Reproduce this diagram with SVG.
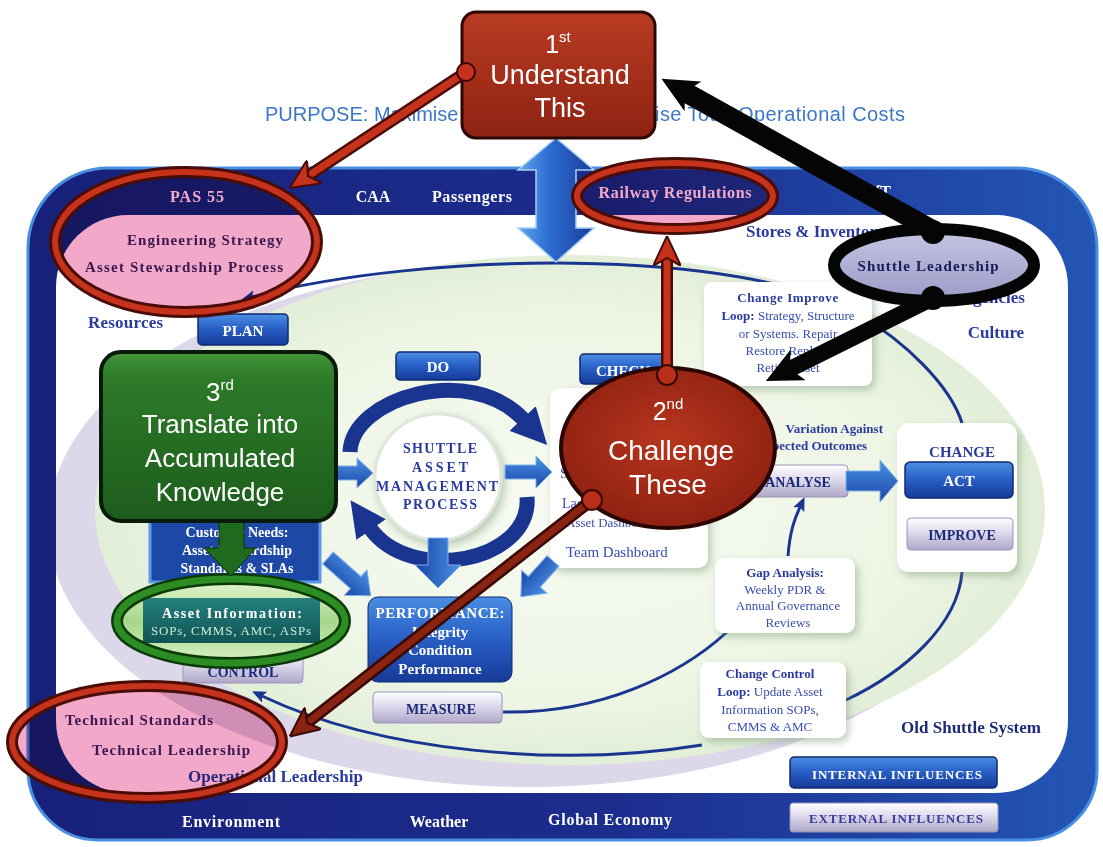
<svg xmlns="http://www.w3.org/2000/svg" width="1103" height="847" viewBox="0 0 1103 847">
<defs>
  <style>
    .sb { font-family: "Liberation Serif", serif; font-weight: bold; }
    .sr { font-family: "Liberation Serif", serif; }
    .ss { font-family: "Liberation Sans", Arial, sans-serif; }
    .w { fill: #ffffff; }
    .bl { fill: #2a3a9e; }
    .nv { fill: #1c2a7a; }
    .pu { fill: #3a1650; }
    .lb { fill: #3a4cb0; }
    .mid { text-anchor: middle; }
    .thin { fill: none; stroke: #1a3590; stroke-width: 3; }
    .panel { fill: #ffffff; filter: url(#sh); }
    .btnB { fill: url(#gBlueBtn); stroke: #0f2a70; stroke-width: 1.5; }
    .btnL { fill: url(#gLavBtn); stroke: #9a94b8; stroke-width: 1; }
    .blk { fill: url(#gArrow); stroke: #7fb0ea; stroke-width: 1; }
    .pink { fill: #f2a8c8; mix-blend-mode: multiply; }
    .rimO { fill: none; stroke: #4a0c06; stroke-width: 12; }
    .rimI { fill: none; stroke: #c5331c; stroke-width: 6; }
  </style>
  <clipPath id="inner">
    <rect x="56" y="215" width="1012" height="578" rx="72"/>
  </clipPath>
  <linearGradient id="gFrame" x1="0" y1="0" x2="1" y2="0">
    <stop offset="0" stop-color="#17217a"/>
    <stop offset="0.55" stop-color="#1c2d8e"/>
    <stop offset="1" stop-color="#2356b6"/>
  </linearGradient>
  <linearGradient id="gBlueBtn" x1="0" y1="0" x2="0" y2="1">
    <stop offset="0" stop-color="#4b8ee2"/>
    <stop offset="0.45" stop-color="#2a62c8"/>
    <stop offset="1" stop-color="#163a98"/>
  </linearGradient>
  <linearGradient id="gLavBtn" x1="0" y1="0" x2="0" y2="1">
    <stop offset="0" stop-color="#ffffff"/>
    <stop offset="0.4" stop-color="#e2deef"/>
    <stop offset="1" stop-color="#aea6c8"/>
  </linearGradient>
  <linearGradient id="gGreen" x1="0" y1="0" x2="0" y2="1">
    <stop offset="0" stop-color="#44963a"/>
    <stop offset="0.15" stop-color="#2d7b29"/>
    <stop offset="1" stop-color="#1d5c1c"/>
  </linearGradient>
  <radialGradient id="gRed" cx="0.5" cy="0.45" r="0.6">
    <stop offset="0" stop-color="#b8361e"/>
    <stop offset="1" stop-color="#8c1f10"/>
  </radialGradient>
  <linearGradient id="gRedBox" x1="0" y1="0" x2="0" y2="1">
    <stop offset="0" stop-color="#b93b22"/>
    <stop offset="1" stop-color="#8e2212"/>
  </linearGradient>
  <radialGradient id="gMint" cx="0.5" cy="0.5" r="0.5">
    <stop offset="0" stop-color="#f8fbf4"/>
    <stop offset="0.75" stop-color="#edf5e4"/>
    <stop offset="1" stop-color="#e2eed8"/>
  </radialGradient>
  <linearGradient id="gArrow" x1="0" y1="0" x2="0" y2="1">
    <stop offset="0" stop-color="#4a92e4"/>
    <stop offset="1" stop-color="#1b46a8"/>
  </linearGradient>
  <linearGradient id="gBig" x1="0" y1="0" x2="1" y2="0">
    <stop offset="0" stop-color="#62a6ec"/>
    <stop offset="0.4" stop-color="#2d6ed2"/>
    <stop offset="1" stop-color="#1a3c9c"/>
  </linearGradient>
  <linearGradient id="gTeal" x1="0" y1="0" x2="0" y2="1">
    <stop offset="0" stop-color="#25807e"/>
    <stop offset="1" stop-color="#105454"/>
  </linearGradient>
  <linearGradient id="gShut" x1="0" y1="0" x2="0" y2="1">
    <stop offset="0" stop-color="#c6c6e6"/>
    <stop offset="1" stop-color="#9a9ac6"/>
  </linearGradient>
  <linearGradient id="gLeaf" x1="0" y1="0" x2="0" y2="1">
    <stop offset="0" stop-color="#e4f6d2"/>
    <stop offset="0.5" stop-color="#a6d68a"/>
    <stop offset="1" stop-color="#d8f0c4"/>
  </linearGradient>
  <filter id="sh" x="-15%" y="-15%" width="135%" height="145%">
    <feDropShadow dx="3" dy="4" stdDeviation="4" flood-color="#6f8f6a" flood-opacity="0.45"/>
  </filter>
  <marker id="mRed" viewBox="0 0 30 28" refX="8" refY="14" markerWidth="30" markerHeight="28" markerUnits="userSpaceOnUse" orient="auto">
    <path d="M0,0 L30,14 L0,28 L8,14 z" fill="#c5331c" stroke="#4a0c06" stroke-width="2"/>
  </marker>
  <marker id="mBrown" viewBox="0 0 30 28" refX="8" refY="14" markerWidth="30" markerHeight="28" markerUnits="userSpaceOnUse" orient="auto">
    <path d="M0,0 L30,14 L0,28 L8,14 z" fill="#8a2412" stroke="#3a0804" stroke-width="2"/>
  </marker>
  <marker id="mBlack" viewBox="0 0 36 34" refX="9" refY="17" markerWidth="36" markerHeight="34" markerUnits="userSpaceOnUse" orient="auto">
    <path d="M0,0 L36,17 L0,34 L9,17 z" fill="#050505"/>
  </marker>
  <marker id="mArc" viewBox="0 0 36 36" refX="2" refY="18" markerWidth="36" markerHeight="36" markerUnits="userSpaceOnUse" orient="auto">
    <path d="M0,0 L36,18 L0,36 z" fill="#1a3590"/>
  </marker>
  <marker id="mThin" viewBox="0 0 14 12" refX="3" refY="6" markerWidth="14" markerHeight="12" markerUnits="userSpaceOnUse" orient="auto-start-reverse">
    <path d="M0,0 L14,6 L0,12 L3,6 z" fill="#1a3590"/>
  </marker>
</defs>

<rect width="1103" height="847" fill="#ffffff"/>

<!-- outer influences frame with the internal field -->
<g id="frame">
  <path d="M108,168 H1017 A80,80 0 0 1 1097,248 V770 A70,70 0 0 1 1027,840 H98 A70,70 0 0 1 28,770 V248 A80,80 0 0 1 108,168 Z" fill="url(#gFrame)" stroke="#4a90e0" stroke-width="3"/>
  <rect x="56" y="215" width="1012" height="578" rx="72" fill="#ffffff"/>
  <g clip-path="url(#inner)">
    <ellipse cx="528" cy="525" rx="480" ry="262" fill="#dcd8ea"/>
    <ellipse cx="570" cy="510" rx="475" ry="255" fill="url(#gMint)"/>
  </g>
</g>

<!-- frame labels -->
<g id="frame-labels" font-size="16">
  <text x="197" y="202" class="sb w mid" textLength="54">PAS 55</text>
  <text x="373" y="202" class="sb w mid">CAA</text>
  <text x="472" y="202" class="sb w mid" textLength="80">Passengers</text>
  <text x="675" y="198" class="sb w mid" textLength="153">Railway Regulations</text>
  <text x="891" y="197" class="sb w" text-anchor="end">DfT</text>
  <text x="231" y="827" class="sb w mid" textLength="98">Environment</text>
  <text x="439" y="827" class="sb w mid">Weather</text>
  <text x="610" y="825" class="sb w mid" textLength="124">Global Economy</text>
</g>

<text id="purpose" x="265" y="121" class="ss" font-size="20" fill="#3b78c8">PURPOSE: Maximise</text>
<text x="655" y="121" class="ss" font-size="20" fill="#3b78c8" textLength="250">ise Total Operational Costs</text>

<!-- loop lines -->
<g id="loops">
  <path class="thin" d="M252,297 C420,252 740,246 860,315 C905,342 950,385 962,423" marker-start="url(#mThin)"/>
  <path class="thin" d="M962,572 C958,625 905,672 846,700"/>
  <path class="thin" d="M702,745 C560,768 380,752 262,696" marker-end="url(#mThin)"/>
  <path class="thin" d="M503,712 C600,714 680,675 727,632"/>
  <path class="thin" d="M788,556 C790,530 795,518 800,507" marker-end="url(#mThin)"/>
</g>

<!-- internal influence labels -->
<g id="influences" font-size="17">
  <text x="746" y="237" class="sb bl">Stores &amp; Inventory</text>
  <text x="1025" y="303" class="sb bl" text-anchor="end">Agencies</text>
  <text x="996" y="338" class="sb bl mid">Culture</text>
  <text x="88" y="328" class="sb bl" textLength="75">Resources</text>
  <text x="188" y="782" class="sb bl" textLength="175">Operational Leadership</text>
  <text x="971" y="733" class="sb nv mid" textLength="140">Old Shuttle System</text>
</g>

<!-- change improve loop panel -->
<g id="change-improve">
  <rect x="704" y="282" width="168" height="104" rx="8" class="panel"/>
  <text x="788" y="302" class="sb bl mid" font-size="13" letter-spacing="0.6">Change Improve</text>
  <text x="788" y="320" class="sr lb mid" font-size="13"><tspan font-weight="bold" fill="#2a3a9e">Loop:</tspan> Strategy, Structure</text>
  <text x="788" y="338" class="sr lb mid" font-size="13">or Systems. Repair</text>
  <text x="788" y="355" class="sr lb mid" font-size="13">Restore Replace</text>
  <text x="788" y="372" class="sr lb mid" font-size="13">Retire Asset</text>
</g>

<!-- check panel -->
<g id="check-panel">
  <rect x="550" y="388" width="158" height="180" rx="10" class="panel"/>
  <text x="560" y="478" class="sr lb" font-size="14">Service KPIs</text>
  <text x="562" y="508" class="sr lb" font-size="14">Lagging KPIs</text>
  <text x="566" y="527" class="sr lb" font-size="13">Asset Dashboard</text>
  <text x="566" y="557" class="sr lb" font-size="15">Team Dashboard</text>
</g>

<!-- change panel -->
<g id="change">
  <rect x="897" y="423" width="120" height="149" rx="12" class="panel"/>
  <text x="962" y="457" class="sb bl mid" font-size="15">CHANGE</text>
  <rect x="905" y="462" width="108" height="36" rx="5" class="btnB"/>
  <text x="959" y="486" class="sb w mid" font-size="15">ACT</text>
  <rect x="907" y="518" width="106" height="32" rx="4" class="btnL"/>
  <text x="962" y="540" class="sb nv mid" font-size="14">IMPROVE</text>
</g>

<!-- gap analysis panel -->
<g id="gap-analysis">
  <rect x="715" y="558" width="140" height="75" rx="9" class="panel"/>
  <text x="785" y="577" class="sb bl mid" font-size="13">Gap Analysis:</text>
  <text x="785" y="594" class="sr lb mid" font-size="13">Weekly PDR &amp;</text>
  <text x="788" y="610" class="sr lb mid" font-size="13">Annual Governance</text>
  <text x="788" y="627" class="sr lb mid" font-size="13">Reviews</text>
</g>

<!-- change control panel -->
<g id="change-control">
  <rect x="700" y="662" width="146" height="76" rx="9" class="panel"/>
  <text x="770" y="678" class="sb bl mid" font-size="13">Change Control</text>
  <text x="770" y="696" class="sr lb mid" font-size="13"><tspan font-weight="bold" fill="#2a3a9e">Loop:</tspan> Update Asset</text>
  <text x="770" y="714" class="sr lb mid" font-size="13">Information SOPs,</text>
  <text x="770" y="731" class="sr lb mid" font-size="13">CMMS &amp; AMC</text>
</g>

<!-- variation label and analyse -->
<g id="analyse">
  <text x="883" y="433" class="sb bl" font-size="13" text-anchor="end">Variation Against</text>
  <text x="867" y="450" class="sb bl" font-size="13" text-anchor="end">Expected Outcomes</text>
  <rect x="735" y="465" width="113" height="32" rx="4" class="btnL"/>
  <text x="798" y="487" class="sb nv mid" font-size="14">ANALYSE</text>
  <polygon class="blk" transform="translate(846,481)" points="0,-10 34,-10 34,-21 52,0 34,21 34,10 0,10"/>
</g>

<!-- legend buttons -->
<g id="legend">
  <rect x="790" y="757" width="207" height="31" rx="4" class="btnB"/>
  <text x="897" y="779" class="sb w mid" font-size="13" textLength="170">INTERNAL INFLUENCES</text>
  <rect x="790" y="803" width="208" height="29" rx="3" class="btnL"/>
  <text x="896" y="823" class="sb mid" font-size="13" fill="#3a3a9a" textLength="174">EXTERNAL INFLUENCES</text>
</g>

<!-- PDCA buttons -->
<g id="plan"><rect x="198" y="314" width="90" height="31" rx="4" class="btnB"/><text x="243" y="336" class="sb w mid" font-size="15">PLAN</text></g>
<g id="do"><rect x="396" y="352" width="84" height="28" rx="4" class="btnB"/><text x="438" y="372" class="sb w mid" font-size="15">DO</text></g>
<g id="check"><rect x="580" y="354" width="86" height="30" rx="4" class="btnB"/><text x="596" y="376" class="sb w" font-size="15">CHECK</text></g>
<g id="control"><rect x="183" y="650" width="120" height="33" rx="4" class="btnL"/><text x="243" y="677" class="sb nv mid" font-size="14">CONTROL</text></g>

<!-- customer needs -->
<g id="customer-needs">
  <rect x="150" y="500" width="170" height="82" fill="#1e48a6" stroke="#5a9ae6" stroke-width="3"/>
  <text x="237" y="537" class="sb w mid" font-size="14">Customer Needs:</text>
  <text x="237" y="555" class="sb w mid" font-size="14">Asset Stewardship</text>
  <text x="237" y="573" class="sb w mid" font-size="14">Standards &amp; SLAs</text>
</g>

<!-- performance and measure -->
<g id="performance">
  <rect x="368" y="597" width="144" height="85" rx="10" fill="url(#gBlueBtn)" stroke="#0f2a70" stroke-width="1"/>
  <text x="440" y="618" class="sb w mid" font-size="15" textLength="129">PERFORMANCE:</text>
  <text x="440" y="637" class="sb w mid" font-size="15">Integrity</text>
  <text x="440" y="655" class="sb w mid" font-size="15">Condition</text>
  <text x="440" y="674" class="sb w mid" font-size="15">Performance</text>
</g>
<g id="measure"><rect x="373" y="692" width="129" height="31" rx="4" class="btnL"/><text x="441" y="714" class="sb nv mid" font-size="14">MEASURE</text></g>

<!-- shuttle asset management process hub -->
<g id="sam-process">
  <path d="M350,452 C352,398 470,362 524,420" fill="none" stroke="#1a3590" stroke-width="15" marker-end="url(#mArc)"/>
  <path d="M527,497 C532,562 410,585 370,528" fill="none" stroke="#1a3590" stroke-width="15" marker-end="url(#mArc)"/>
  <circle cx="438" cy="477" r="63" fill="#ffffff" stroke="#dfe6dc" stroke-width="3" filter="url(#sh)"/>
  <text x="440" y="453" class="sb bl mid" font-size="14" textLength="74">SHUTTLE</text>
  <text x="440" y="472" class="sb bl mid" font-size="14" textLength="56">ASSET</text>
  <text x="437" y="491" class="sb bl mid" font-size="14" textLength="122">MANAGEMENT</text>
  <text x="440" y="509" class="sb bl mid" font-size="14" textLength="74">PROCESS</text>
  <polygon class="blk" transform="translate(336,473)" points="0,-7 21,-7 21,-15 37,0 21,15 21,7 0,7"/>
  <polygon class="blk" transform="translate(505,472)" points="0,-7 31,-7 31,-16 47,0 31,16 31,7 0,7"/>
  <polygon class="blk" transform="translate(438,538) rotate(90)" points="0,-10 27,-10 27,-23 50,0 27,23 27,10 0,10"/>
  <polygon class="blk" transform="translate(328,558) rotate(41.5)" points="0,-8 37,-8 37,-17 57,0 37,17 37,8 0,8"/>
  <polygon class="blk" transform="translate(553,561) rotate(132)" points="0,-8 28,-8 28,-17 48,0 28,17 28,8 0,8"/>
</g>

<!-- vertical purpose arrow -->
<polygon id="purpose-arrow" points="556,138 594,170 576,170 576,228 594,228 556,262 518,228 536,228 536,170 518,170" fill="url(#gBig)" stroke="#a8d0f4" stroke-width="1.5"/>

<!-- PAS 55 callout -->
<g id="pas55">
  <ellipse cx="186" cy="242" rx="131" ry="70" class="pink"/>
  <text x="127" y="245" class="sb pu" font-size="15" textLength="156">Engineering Strategy</text>
  <text x="85" y="272" class="sb pu" font-size="15" textLength="198">Asset Stewardship Process</text>
  <ellipse cx="186" cy="242" rx="131" ry="70" class="rimO"/>
  <ellipse cx="186" cy="242" rx="131" ry="70" class="rimI"/>
</g>

<!-- railway regulations callout -->
<g id="railway">
  <ellipse cx="675" cy="196" rx="98" ry="33" class="pink"/>
  <ellipse cx="675" cy="196" rx="98" ry="33" class="rimO"/>
  <ellipse cx="675" cy="196" rx="98" ry="33" class="rimI"/>
</g>

<!-- technical standards callout -->
<g id="technical">
  <ellipse cx="147" cy="742" rx="135" ry="56" class="pink"/>
  <text x="65" y="725" class="sb pu" font-size="15" textLength="148">Technical Standards</text>
  <text x="92" y="755" class="sb pu" font-size="15" textLength="158">Technical Leadership</text>
  <ellipse cx="147" cy="742" rx="135" ry="56" class="rimO"/>
  <ellipse cx="147" cy="742" rx="135" ry="56" class="rimI"/>
</g>

<!-- asset information callout -->
<g id="asset-information">
  <ellipse cx="231" cy="621" rx="114" ry="42" fill="url(#gLeaf)"/>
  <rect x="143" y="598" width="177" height="45" fill="url(#gTeal)"/>
  <text x="232" y="618" class="sb w mid" font-size="14" textLength="140">Asset Information:</text>
  <text x="231" y="635" class="sr mid" font-size="13" fill="#c8ecd8" textLength="160">SOPs, CMMS, AMC, ASPs</text>
  <ellipse cx="231" cy="621" rx="114" ry="42" fill="none" stroke="#0b3a08" stroke-width="12"/>
  <ellipse cx="231" cy="621" rx="114" ry="42" fill="none" stroke="#2e8c24" stroke-width="7"/>
</g>

<!-- step 3 -->
<g id="step3">
  <polygon points="219,518 244,518 244,548 256,548 231,576 204,548 219,548" fill="#1e6a1e" stroke="#0b300b" stroke-width="1"/>
  <rect x="101" y="352" width="235" height="169" rx="20" fill="url(#gGreen)" stroke="#0a1a0a" stroke-width="4"/>
  <text x="220" y="401" class="ss w mid" font-size="26">3<tspan dy="-11" font-size="15">rd</tspan></text>
  <text x="220" y="433" class="ss w mid" font-size="26">Translate into</text>
  <text x="220" y="467" class="ss w mid" font-size="26">Accumulated</text>
  <text x="220" y="501" class="ss w mid" font-size="26">Knowledge</text>
</g>

<!-- shuttle leadership -->
<g id="shuttle-leadership">
  <ellipse cx="934" cy="265" rx="100" ry="36" fill="url(#gShut)" stroke="#050505" stroke-width="12"/>
  <text x="928" y="271" class="sb mid" font-size="15" fill="#1a1a55" textLength="141">Shuttle Leadership</text>
</g>

<!-- step 2 -->
<g id="step2">
  <ellipse cx="668" cy="448" rx="107" ry="80" fill="url(#gRed)" stroke="#2a0603" stroke-width="4"/>
  <text x="668" y="420" class="ss w mid" font-size="25">2<tspan dy="-11" font-size="15">nd</tspan></text>
  <text x="671" y="460" class="ss w mid" font-size="28">Challenge</text>
  <text x="668" y="494" class="ss w mid" font-size="28">These</text>
</g>

<!-- step 1 -->
<g id="step1">
  <rect x="462" y="12" width="193" height="126" rx="14" fill="url(#gRedBox)" stroke="#2a0805" stroke-width="3"/>
  <text x="558" y="53" class="ss w mid" font-size="25">1<tspan dy="-11" font-size="15">st</tspan></text>
  <text x="560" y="84" class="ss w mid" font-size="27">Understand</text>
  <text x="560" y="117" class="ss w mid" font-size="27">This</text>
</g>

<!-- connectors -->
<g id="connectors" fill="none" stroke-linecap="butt">
  <path d="M466,72 L308,176" stroke="#4a0c06" stroke-width="12"/>
  <path d="M466,72 L308,176" stroke="#c5331c" stroke-width="7" marker-end="url(#mRed)"/>
  <path d="M667,375 L667,258" stroke="#4a0c06" stroke-width="12"/>
  <path d="M667,375 L667,258" stroke="#c5331c" stroke-width="7" marker-end="url(#mRed)"/>
  <path d="M592,500 L307,723" stroke="#3a0804" stroke-width="12"/>
  <path d="M592,500 L307,723" stroke="#8a2412" stroke-width="7" marker-end="url(#mBrown)"/>
  <path d="M936,232 L685,92" stroke="#050505" stroke-width="20" marker-end="url(#mBlack)"/>
  <path d="M933,298 L790,369" stroke="#050505" stroke-width="16" marker-end="url(#mBlack)"/>
  <circle cx="466" cy="72" r="9" fill="#c5331c" stroke="#3a0804" stroke-width="2"/>
  <circle cx="667" cy="375" r="10" fill="#b8301a" stroke="#3a0804" stroke-width="2"/>
  <circle cx="592" cy="500" r="10" fill="#b8301a" stroke="#3a0804" stroke-width="2"/>
  <circle cx="933" cy="232" r="12" fill="#050505"/>
  <circle cx="933" cy="298" r="12" fill="#050505"/>
</g>
</svg>
